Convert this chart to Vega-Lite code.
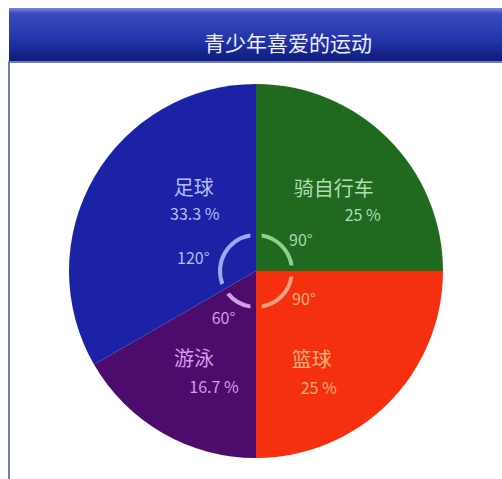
{
  "$schema": "https://vega.github.io/schema/vega-lite/v6.json",
  "padding": {"left": 8, "top": 8, "right": 0, "bottom": 0},
  "background": "white",
  "spacing": 0,
  "config": {"font": "Noto Sans CJK SC", "view": {"stroke": null}},
  "datasets": {
    "sports": [
      {"sport": "骑自行车", "ord": 1, "deg": 90, "pct": "25 %", "ang": "90°"},
      {"sport": "篮球", "ord": 2, "deg": 90, "pct": "25 %", "ang": "90°"},
      {"sport": "游泳", "ord": 3, "deg": 60, "pct": "16.7 %", "ang": "60°"},
      {"sport": "足球", "ord": 4, "deg": 120, "pct": "33.3 %", "ang": "120°"}
    ]
  },
  "vconcat": [
    {
      "width": 494,
      "height": 53,
      "data": {"values": [{"title": "青少年喜爱的运动"}]},
      "layer": [
        {
          "mark": {"type": "rect", "fill": {"gradient": "linear", "x1": 0, "y1": 0, "x2": 0, "y2": 1, "stops": [
            {"offset": 0, "color": "#7a86de"},
            {"offset": 0.1, "color": "#3a4bc0"},
            {"offset": 0.6, "color": "#2434a8"},
            {"offset": 1, "color": "#0d1b7a"}]}},
          "encoding": {}
        },
        {
          "mark": {"type": "text", "color": "#eef0ff", "fontSize": 21, "dx": 32, "dy": 10, "align": "center", "baseline": "middle"},
          "encoding": {"text": {"field": "title"}}
        }
      ]
    },
    {
      "width": 494,
      "height": 418,
      "view": {"stroke": "#6f7cc4", "strokeWidth": 2},
      "data": {"name": "sports"},
      "resolve": {"scale": {"color": "independent"}},
      "layer": [
        {
          "mark": {"type": "arc", "outerRadius": 187},
          "encoding": {
            "theta": {"field": "deg", "type": "quantitative", "stack": true},
            "order": {"field": "ord"},
            "color": {"field": "sport", "type": "nominal", "legend": null,
              "scale": {"domain": ["骑自行车", "篮球", "游泳", "足球"], "range": ["#1f6a1f", "#f5300f", "#4b0c6b", "#1c22a6"]}}
          }
        },
        {
          "mark": {"type": "arc", "innerRadius": 34, "outerRadius": 38, "padAngle": 0.22},
          "encoding": {
            "theta": {"field": "deg", "type": "quantitative", "stack": true},
            "order": {"field": "ord"},
            "color": {"field": "sport", "type": "nominal", "legend": null,
              "scale": {"domain": ["骑自行车", "篮球", "游泳", "足球"], "range": ["#8fd08f", "#ff9f80", "#d49ce6", "#9ea8f0"]}}
          }
        },
        {"mark": {"type": "text", "radius": 110, "fontSize": 20, "color": "#b0dcb0", "dx": 0, "dy": -3},
         "encoding": {"theta": {"field": "deg", "type": "quantitative", "stack": true}, "order": {"field": "ord"},
           "text": {"condition": {"test": "datum.sport === '骑自行车'", "field": "sport"}, "value": ""}}},
        {"mark": {"type": "text", "radius": 110, "fontSize": 16, "color": "#b0dcb0", "dx": 29, "dy": 23},
         "encoding": {"theta": {"field": "deg", "type": "quantitative", "stack": true}, "order": {"field": "ord"},
           "text": {"condition": {"test": "datum.sport === '骑自行车'", "field": "pct"}, "value": ""}}},
        {"mark": {"type": "text", "radius": 110, "fontSize": 20, "color": "#ffae78", "dx": -22, "dy": 12},
         "encoding": {"theta": {"field": "deg", "type": "quantitative", "stack": true}, "order": {"field": "ord"},
           "text": {"condition": {"test": "datum.sport === '篮球'", "field": "sport"}, "value": ""}}},
        {"mark": {"type": "text", "radius": 110, "fontSize": 16, "color": "#ffae78", "dx": -15, "dy": 40},
         "encoding": {"theta": {"field": "deg", "type": "quantitative", "stack": true}, "order": {"field": "ord"},
           "text": {"condition": {"test": "datum.sport === '篮球'", "field": "pct"}, "value": ""}}},
        {"mark": {"type": "text", "radius": 110, "fontSize": 20, "color": "#d89ae8", "dx": -7, "dy": -6},
         "encoding": {"theta": {"field": "deg", "type": "quantitative", "stack": true}, "order": {"field": "ord"},
           "text": {"condition": {"test": "datum.sport === '游泳'", "field": "sport"}, "value": ""}}},
        {"mark": {"type": "text", "radius": 110, "fontSize": 16, "color": "#d89ae8", "dx": 13, "dy": 22},
         "encoding": {"theta": {"field": "deg", "type": "quantitative", "stack": true}, "order": {"field": "ord"},
           "text": {"condition": {"test": "datum.sport === '游泳'", "field": "pct"}, "value": ""}}},
        {"mark": {"type": "text", "radius": 110, "fontSize": 20, "color": "#b4bcf2", "dx": 33, "dy": -27},
         "encoding": {"theta": {"field": "deg", "type": "quantitative", "stack": true}, "order": {"field": "ord"},
           "text": {"condition": {"test": "datum.sport === '足球'", "field": "sport"}, "value": ""}}},
        {"mark": {"type": "text", "radius": 110, "fontSize": 16, "color": "#b4bcf2", "dx": 34, "dy": -1},
         "encoding": {"theta": {"field": "deg", "type": "quantitative", "stack": true}, "order": {"field": "ord"},
           "text": {"condition": {"test": "datum.sport === '足球'", "field": "pct"}, "value": ""}}},
        {"mark": {"type": "text", "radius": 55, "fontSize": 16, "color": "#a8d8a8", "dx": 6, "dy": 9},
         "encoding": {"theta": {"field": "deg", "type": "quantitative", "stack": true}, "order": {"field": "ord"},
           "text": {"condition": {"test": "datum.sport === '骑自行车'", "field": "ang"}, "value": ""}}},
        {"mark": {"type": "text", "radius": 55, "fontSize": 16, "color": "#ffae78", "dx": 9, "dy": -10},
         "encoding": {"theta": {"field": "deg", "type": "quantitative", "stack": true}, "order": {"field": "ord"},
           "text": {"condition": {"test": "datum.sport === '篮球'", "field": "ang"}, "value": ""}}},
        {"mark": {"type": "text", "radius": 55, "fontSize": 16, "color": "#d89ae8", "dx": -5, "dy": 0},
         "encoding": {"theta": {"field": "deg", "type": "quantitative", "stack": true}, "order": {"field": "ord"},
           "text": {"condition": {"test": "datum.sport === '游泳'", "field": "ang"}, "value": ""}}},
        {"mark": {"type": "text", "radius": 55, "fontSize": 16, "color": "#b4bcf2", "dx": -15, "dy": 15},
         "encoding": {"theta": {"field": "deg", "type": "quantitative", "stack": true}, "order": {"field": "ord"},
           "text": {"condition": {"test": "datum.sport === '足球'", "field": "ang"}, "value": ""}}}
      ]
    }
  ]
}
